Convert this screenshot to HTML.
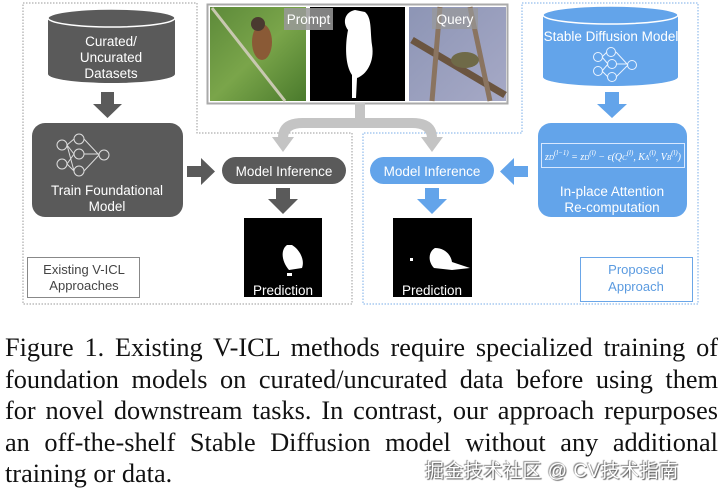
<!DOCTYPE html>
<html><head><meta charset="utf-8"><style>
body{margin:0;width:720px;height:497px;background:#fff;overflow:hidden;position:relative;font-family:"Liberation Sans",sans-serif}
.cap{position:absolute;left:5px;width:713px;top:332px;font-family:"Liberation Serif",serif;font-size:26.3px;line-height:31.5px;color:#111}
.cap div{text-align:justify;text-align-last:justify;white-space:nowrap}
.cap div.l{text-align-last:left}
.wm{position:absolute;left:425px;top:456px;font-family:"Liberation Sans","Noto Sans CJK SC",sans-serif;font-size:19px;color:#fff;text-shadow:1px 1px 1px #555,-1px -1px 1px #888;letter-spacing:0.5px}
</style></head><body>
<svg width="720" height="330" style="position:absolute;left:0;top:0" font-family="Liberation Sans, sans-serif">
<path d="M23 3 H197 V133 H352 V304 H23 Z" fill="none" stroke="#999" stroke-dasharray="1.5,1.5"/>
<path d="M522 3 H698 V304 H363 V133 H522 Z" fill="none" stroke="#7aaee8" stroke-dasharray="1.5,1.5"/>
<rect x="207.5" y="4.5" width="300" height="99" fill="#fff" stroke="#aaa" stroke-width="2"/>
<defs>
<linearGradient id="g1" x1="0" y1="0" x2="1" y2="1"><stop offset="0" stop-color="#5d8a3a"/><stop offset="0.5" stop-color="#7aa54a"/><stop offset="1" stop-color="#4a7a2c"/></linearGradient>
<linearGradient id="g2" x1="0" y1="0" x2="1" y2="1"><stop offset="0" stop-color="#8d95b5"/><stop offset="1" stop-color="#a6a9c6"/></linearGradient>
</defs>
<rect x="210" y="7" width="96" height="94" fill="url(#g1)"/>
<line x1="212" y1="8" x2="285" y2="101" stroke="#c8c8b0" stroke-width="3"/>
<ellipse cx="262" cy="42" rx="10" ry="18" fill="#8a5a36"/>
<circle cx="258" cy="24" r="7" fill="#4a3a30"/>
<rect x="310" y="7" width="95" height="94" fill="#000"/>
<path d="M355 10 C345 12 342 22 348 30 C345 45 345 65 352 75 L352 98 L356 98 L357 78 C366 75 375 62 372 45 C370 30 372 18 365 12 Z" fill="#fff"/>
<rect x="409" y="7" width="97" height="94" fill="url(#g2)"/>
<path d="M412 40 L505 95" stroke="#6b5540" stroke-width="7"/>
<path d="M440 7 L432 101 M470 7 L490 101" stroke="#8a7460" stroke-width="5"/>
<ellipse cx="465" cy="60" rx="14" ry="8" fill="#6f6a48"/>
<rect x="284" y="8" width="49" height="22" fill="#999" opacity="0.85"/>
<text x="308.5" y="24" text-anchor="middle" fill="#fff" font-size="13.5">Prompt</text>
<rect x="432" y="8" width="46" height="21" fill="#999" opacity="0.7"/>
<text x="455" y="24" text-anchor="middle" fill="#fff" font-size="13.5">Query</text>
<path d="M355 103 H365 V118 H412 Q437 118 437 138 H427 Q427 128 412 128 H303 Q288 128 288 138 H278 Q278 118 303 118 H355 Z" fill="#c4c4c4"/>
<path d="M272 137 L294 137 L283 152 Z" fill="#c4c4c4"/>
<path d="M421 137 L443 137 L432 152 Z" fill="#c4c4c4"/>
<path d="M48 18 V74 A63.5 9 0 0 0 175 74 V18 Z" fill="#5a5a5a"/>
<ellipse cx="111.5" cy="18" rx="63.5" ry="9" fill="#5a5a5a" stroke="#fff" stroke-width="1.5"/>
<text fill="#fff" font-size="13.5" text-anchor="middle"><tspan x="111" y="46">Curated/</tspan><tspan x="111" y="62">Uncurated</tspan><tspan x="111" y="78">Datasets</tspan></text>
<path d="M101 92 H114 V104 H122 L107.5 118 L93 104 H101 Z" fill="#5a5a5a"/>
<rect x="32" y="123" width="151" height="94" rx="13" fill="#5a5a5a"/>
<g fill="none" stroke="#ddd" stroke-width="1"><circle cx="62" cy="145" r="5"/><circle cx="62" cy="164" r="5"/><circle cx="79" cy="139" r="5"/><circle cx="79" cy="154" r="5"/><circle cx="79" cy="171" r="5"/><circle cx="104" cy="155" r="5"/><path d="M67 145 L74 139 M67 145 L74 154 M67 164 L74 154 M67 164 L74 171 M67 145 L74 171 M84 139 L99 155 M84 154 H99 M84 171 L99 155"/></g>
<text fill="#fff" font-size="13.5" text-anchor="middle"><tspan x="107" y="195">Train Foundational</tspan><tspan x="107" y="211">Model</tspan></text>
<path d="M187 166 H201 V158 L215 171.5 L201 185 V177 H187 Z" fill="#5a5a5a"/>
<rect x="222" y="157" width="124" height="27" rx="13.5" fill="#5a5a5a"/>
<text x="284" y="176" fill="#fff" font-size="13.5" text-anchor="middle">Model Inference</text>
<path d="M276 188 H290 V199 H298 L283 214 L268 199 H276 Z" fill="#5a5a5a"/>
<rect x="244" y="218" width="78" height="79" fill="#000"/>
<path d="M287 245 C280 250 282 262 289 270 L302 268 C305 260 300 250 292 245 Z" fill="#fff"/><rect x="287" y="273" width="5" height="3" fill="#fff"/>
<text x="283" y="295" fill="#fff" font-size="13.5" text-anchor="middle">Prediction</text>
<rect x="27.5" y="257.5" width="112" height="40" fill="#fff" stroke="#888"/>
<text fill="#444" font-size="13" text-anchor="middle"><tspan x="84" y="274">Existing V-ICL</tspan><tspan x="84" y="290">Approaches</tspan></text>
<path d="M543 15 V77 A67.5 9 0 0 0 678 77 V15 Z" fill="#63a4ea"/>
<ellipse cx="610.5" cy="15" rx="67.5" ry="9" fill="#63a4ea" stroke="#fff" stroke-width="1.5"/>
<text x="611" y="41" fill="#fff" font-size="13.5" text-anchor="middle">Stable Diffusion Model</text>
<g fill="none" stroke="#eaf3ff" stroke-width="1"><circle cx="598" cy="57" r="4.5"/><circle cx="598" cy="71" r="4.5"/><circle cx="611" cy="52" r="4.5"/><circle cx="612" cy="64" r="4.5"/><circle cx="612" cy="77" r="4.5"/><circle cx="632" cy="65" r="4.5"/><path d="M602 57 L607 52 M602 57 L608 64 M602 71 L608 64 M602 71 L608 77 M616 52 L628 65 M616 64 H628 M616 77 L628 65"/></g>
<path d="M605 92 H619 V104 H627 L612 118 L597 104 H605 Z" fill="#63a4ea"/>
<rect x="538" y="123" width="149" height="94" rx="13" fill="#63a4ea"/>
<rect x="541.5" y="143.5" width="143" height="24" fill="none" stroke="#d8e8ff" stroke-width="1"/>
<text x="545" y="160" fill="#fff" font-size="10" font-family="Liberation Serif, serif" font-style="italic" textLength="136" lengthAdjust="spacingAndGlyphs">z<tspan font-size="7">D</tspan><tspan font-size="7" dy="-5">(l−1)</tspan><tspan dy="5"> = z</tspan><tspan font-size="7">D</tspan><tspan font-size="7" dy="-5">(l)</tspan><tspan dy="5"> − ϵ(Q</tspan><tspan font-size="7">C</tspan><tspan font-size="7" dy="-5">(l)</tspan><tspan dy="5">, K</tspan><tspan font-size="7">A</tspan><tspan font-size="7" dy="-5">(l)</tspan><tspan dy="5">, V</tspan><tspan font-size="7">B</tspan><tspan font-size="7" dy="-5">(l)</tspan><tspan dy="5">)</tspan></text>
<text fill="#fff" font-size="13.5" text-anchor="middle"><tspan x="612" y="196">In-place Attention</tspan><tspan x="612" y="212">Re-computation</tspan></text>
<path d="M528 166 H514 V158 L500 171.5 L514 185 V177 H528 Z" fill="#63a4ea"/>
<rect x="370" y="157" width="124" height="27" rx="13.5" fill="#63a4ea"/>
<text x="432" y="176" fill="#fff" font-size="13.5" text-anchor="middle">Model Inference</text>
<path d="M425 188 H439 V199 H447 L432 214 L417 199 H425 Z" fill="#63a4ea"/>
<rect x="393" y="218" width="79" height="79" fill="#000"/>
<path d="M435 248 C428 252 428 262 434 268 L452 270 L470 268 L452 262 C451 255 445 248 435 248 Z" fill="#fff"/><rect x="410" y="258" width="3" height="3" fill="#fff"/>
<text x="432" y="295" fill="#fff" font-size="13.5" text-anchor="middle">Prediction</text>
<rect x="580.5" y="257.5" width="112" height="44" fill="#fff" stroke="#6aa6e8"/>
<text fill="#5b9be0" font-size="13" text-anchor="middle"><tspan x="636" y="274">Proposed</tspan><tspan x="636" y="291">Approach</tspan></text>
</svg>
<div class="cap">
<div>Figure 1. Existing V-ICL methods require specialized training of</div>
<div>foundation models on curated/uncurated data before using them</div>
<div>for novel downstream tasks. In contrast, our approach repurposes</div>
<div>an off-the-shelf Stable Diffusion model without any additional</div>
<div class="l">training or data.</div>
</div>
<div class="wm">掘金技术社区 @ CV技术指南</div>
</body></html>
